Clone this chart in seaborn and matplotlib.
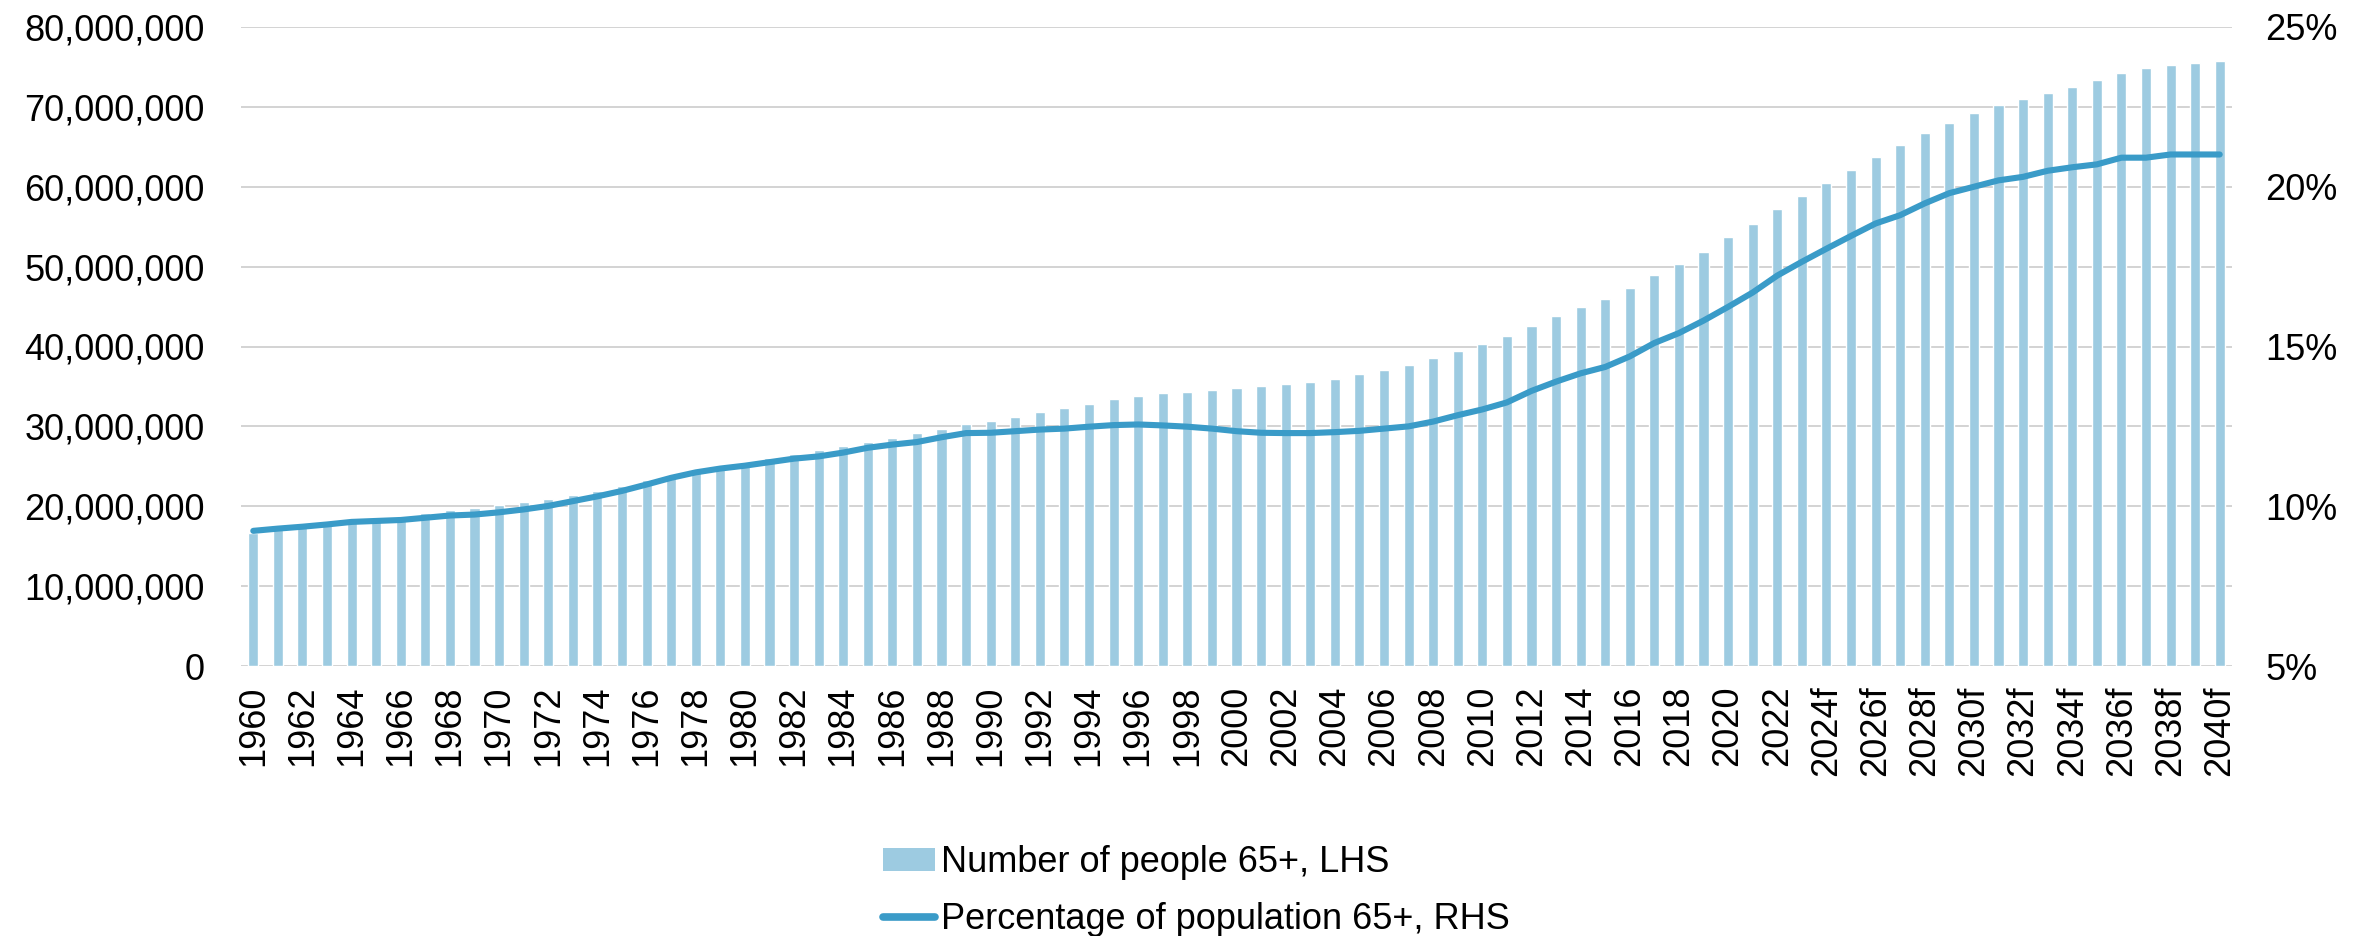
import numpy as np
import pandas as pd
import matplotlib
matplotlib.use("Agg")
import matplotlib.pyplot as plt
from matplotlib.ticker import FuncFormatter, MultipleLocator
from matplotlib.patches import Patch
from matplotlib.lines import Line2D
import seaborn as sns

# Years: actual data through 2023, forecasts afterwards
years = [str(y) for y in range(1960, 2024)] + [f"{y}f" for y in range(2024, 2041)]

# Number of people aged 65 and over (left axis), millions
people_65 = [
    16.70, 17.15, 17.54, 17.88, 18.38, 18.38, 18.71, 19.16, 19.55, 19.78,
    20.11, 20.50, 20.95, 21.45, 21.90, 22.51, 23.24, 23.80, 24.41, 24.97,
    25.59, 26.09, 26.54, 26.98, 27.54, 28.10, 28.60, 29.11, 29.66, 30.28,
    30.67, 31.17, 31.79, 32.29, 32.79, 33.41, 33.80, 34.13, 34.36, 34.53,
    34.75, 35.03, 35.36, 35.59, 35.98, 36.54, 37.04, 37.65, 38.55, 39.44,
    40.28, 41.28, 42.57, 43.85, 44.92, 45.92, 47.32, 48.94, 50.28, 51.84,
    53.69, 55.31, 57.26, 58.88, 60.50, 62.12, 63.74, 65.20, 66.70, 67.93,
    69.22, 70.22, 71.01, 71.79, 72.51, 73.41, 74.19, 74.86, 75.20, 75.47,
    75.75,
]
people_65 = [v * 1e6 for v in people_65]

# Share of total population aged 65 and over, % (right axis)
share_65 = [
    9.23, 9.30, 9.36, 9.43, 9.51, 9.54, 9.57, 9.64, 9.71, 9.74,
    9.81, 9.90, 10.01, 10.16, 10.31, 10.48, 10.68, 10.89, 11.06, 11.18,
    11.27, 11.38, 11.49, 11.56, 11.68, 11.83, 11.93, 12.01, 12.16, 12.29,
    12.30, 12.35, 12.40, 12.43, 12.49, 12.54, 12.56, 12.53, 12.49, 12.43,
    12.35, 12.30, 12.29, 12.29, 12.32, 12.36, 12.43, 12.50, 12.65, 12.85,
    13.03, 13.25, 13.61, 13.90, 14.16, 14.36, 14.69, 15.11, 15.42, 15.81,
    16.24, 16.69, 17.22, 17.65, 18.06, 18.46, 18.85, 19.11, 19.48, 19.80,
    20.00, 20.20, 20.31, 20.50, 20.61, 20.70, 20.91, 20.91, 21.01, 21.01,
    21.01,
]

bar_label = "Number of people 65+, LHS"
line_label = "Percentage of population 65+, RHS"

BAR_COLOR = "#9DCBE1"
LINE_COLOR = "#3A9BC8"
GRID_COLOR = "#D0D0D0"
FS = 26

sns.set_theme(style="white")
plt.rcParams["font.family"] = ["Liberation Sans", "DejaVu Sans"]
plt.rcParams["text.color"] = "black"

df = pd.DataFrame({"year": years, "people": people_65, "share": share_65})
df["pos"] = np.arange(len(df))

fig = plt.figure(figsize=(23.71, 9.36), dpi=100)
ax = fig.add_axes([241 / 2371, 1 - 666 / 936, (2232 - 241) / 2371, (666 - 27) / 936])

sns.barplot(data=df, x="year", y="people", color=BAR_COLOR, width=0.41,
            saturation=1, ax=ax, zorder=2)
ax.set_ylim(0, 80e6)
ax.yaxis.set_major_locator(MultipleLocator(10e6))
ax.yaxis.set_major_formatter(FuncFormatter(lambda v, _: f"{int(v):,}"))
ax.grid(axis="y", color=GRID_COLOR, linewidth=1.3, zorder=0)
ax.set_axisbelow(True)

ax2 = ax.twinx()
sns.lineplot(data=df, x="pos", y="share", color=LINE_COLOR, linewidth=4.4,
             ax=ax2, solid_capstyle="round", zorder=3)
ax2.set_ylim(5, 25)
ax2.yaxis.set_major_locator(MultipleLocator(5))
ax2.yaxis.set_major_formatter(FuncFormatter(lambda v, _: f"{v:.0f}%"))
ax2.grid(False)

ax.set_xlim(-0.5, len(df) - 0.5)
ticks = df["pos"][::2]
ax.set_xticks(ticks)
ax.set_xticklabels(df["year"][::2], rotation=90)

for a in (ax, ax2):
    a.set_xlabel("")
    a.set_ylabel("")
    for s in a.spines.values():
        s.set_visible(False)

ax.tick_params(axis="x", length=0, pad=14, labelsize=FS, colors="black")
ax.tick_params(axis="y", length=0, pad=26, labelsize=FS, colors="black")
ax2.tick_params(axis="y", length=0, pad=24, labelsize=FS, colors="black")

handles = [
    Patch(facecolor=BAR_COLOR, edgecolor="none", label=bar_label),
    Line2D([0], [0], color=LINE_COLOR, linewidth=5.5, solid_capstyle="round", label=line_label),
]
fig.legend(handles=handles, loc="upper left", bbox_to_anchor=(883 / 2371, 1 - 845 / 936),
           frameon=False, fontsize=FS, handlelength=1.45, handleheight=0.62,
           handletextpad=0.15, labelspacing=0.62, borderpad=0, borderaxespad=0,
           labelcolor="black")

fig.savefig("out.png", dpi=100, facecolor="white")
